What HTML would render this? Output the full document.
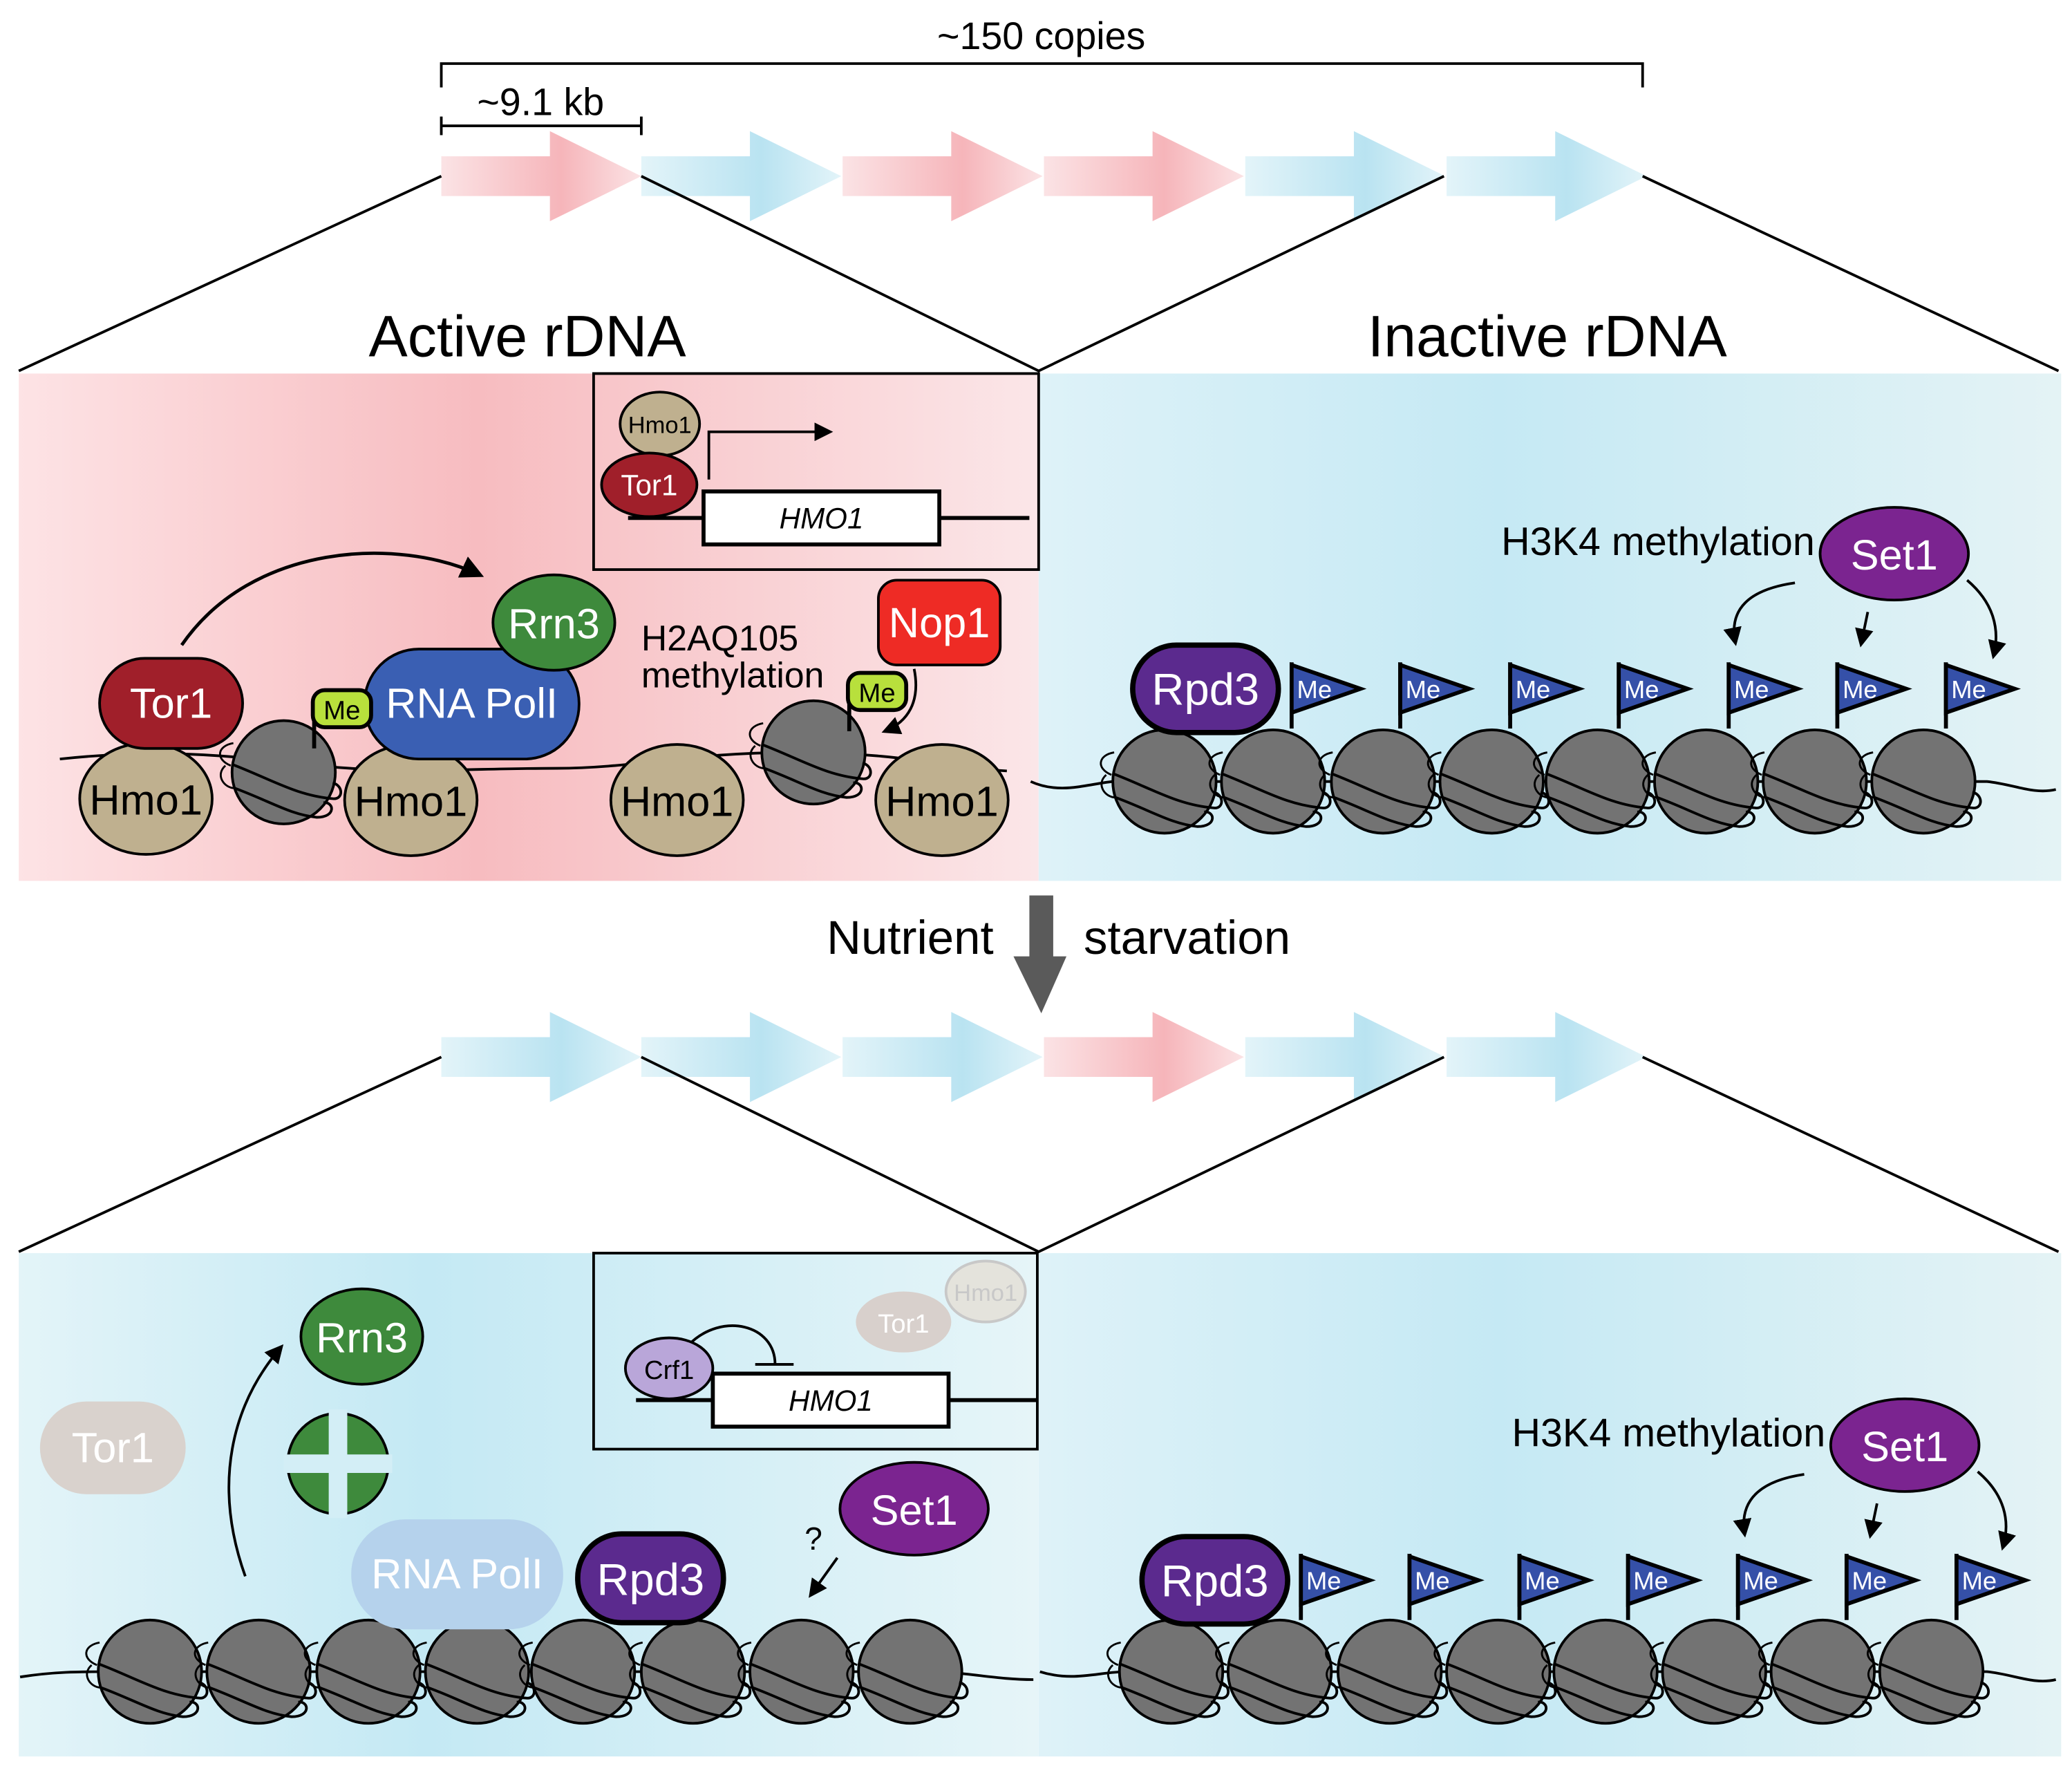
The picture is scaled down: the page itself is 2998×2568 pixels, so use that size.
<!DOCTYPE html>
<html><head><meta charset="utf-8"><style>html,body{margin:0;padding:0;background:#fff}svg{display:block}</style></head>
<body>
<svg width="2998" height="2568" viewBox="0 0 1564 1340" xmlns="http://www.w3.org/2000/svg" font-family="Liberation Sans, sans-serif">
<defs>
<linearGradient id="pk" x1="0" x2="1"><stop offset="0" stop-color="#fbe3e5"/><stop offset="0.6" stop-color="#f6b5ba"/><stop offset="1" stop-color="#fbe3e5"/></linearGradient>
<linearGradient id="bl" x1="0" x2="1"><stop offset="0" stop-color="#e3f4f9"/><stop offset="0.6" stop-color="#b9e3f1"/><stop offset="1" stop-color="#e3f4f9"/></linearGradient>
<linearGradient id="pA" x1="0" x2="1"><stop offset="0" stop-color="#fde3e5"/><stop offset="0.45" stop-color="#f7bcc0"/><stop offset="1" stop-color="#fbe6e8"/></linearGradient>
<linearGradient id="bI" x1="0" x2="1"><stop offset="0" stop-color="#def2f8"/><stop offset="0.45" stop-color="#c5e9f4"/><stop offset="1" stop-color="#e4f3f5"/></linearGradient>
<linearGradient id="bB" x1="0" x2="1"><stop offset="0" stop-color="#e3f4f8"/><stop offset="0.4" stop-color="#c4e9f4"/><stop offset="1" stop-color="#e6f5f8"/></linearGradient>
<g id="pa"><path d="M0,-15 H82 V-34 L151,0 L82,34 V15 H0 Z" fill="url(#pk)"/></g>
<g id="ba"><path d="M0,-15 H82 V-34 L151,0 L82,34 V15 H0 Z" fill="url(#bl)"/></g>
<g id="nuc">
<path d="M-38,-22 C-50,-20 -52,-10 -40,-5" fill="none" stroke="#000" stroke-width="1.5"/>
<circle r="39" fill="#737373" stroke="#000" stroke-width="2"/>
<path d="M-39,-6 C-10,5 10,18 38,20 C45,20 45,10 37,8" fill="none" stroke="#000" stroke-width="2"/>
<path d="M-37,12 C-10,22 5,32 25,34 C40,34 38,22 30,23" fill="none" stroke="#000" stroke-width="2"/>
<path d="M-44,-5 C-52,2 -45,12 -37,12" fill="none" stroke="#000" stroke-width="1.5"/>
</g>
<g id="flag"><line x1="0" y1="50" x2="0" y2="0" stroke="#000" stroke-width="3"/><path d="M0,2 L52,20 L0,38 Z" fill="#3550a8" stroke="#000" stroke-width="3"/><text x="4" y="27" font-size="19" fill="#fff">Me</text></g>
<marker id="ah" viewBox="0 0 10 10" refX="8" refY="5" markerWidth="7" markerHeight="7" orient="auto"><path d="M0,0 L10,5 L0,10 Z" fill="#000"/></marker>
</defs>
<rect width="1564" height="1340" fill="#fff"/>
<text x="786" y="37" font-size="29" text-anchor="middle">~150 copies</text>
<path d="M333,66 V48 H1240 V66" fill="none" stroke="#000" stroke-width="2"/>
<text x="408" y="87" font-size="29" text-anchor="middle">~9.1 kb</text>
<path d="M333,88 V102 M333,95 H484 M484,88 V102" fill="none" stroke="#000" stroke-width="2"/>
<use href="#pa" x="333" y="133"/><use href="#ba" x="484" y="133"/><use href="#pa" x="636" y="133"/><use href="#pa" x="788" y="133"/><use href="#ba" x="940" y="133"/><use href="#ba" x="1092" y="133"/>
<path d="M333,133 L14,280 M484,133 L784,280 L1090,133 M1240,133 L1554,280" fill="none" stroke="#000" stroke-width="2"/>
<text x="398" y="269" font-size="44" text-anchor="middle">Active rDNA</text>
<text x="1168" y="269" font-size="44" text-anchor="middle">Inactive rDNA</text>
<rect x="14" y="282" width="770" height="383" fill="url(#pA)"/>
<rect x="784" y="282" width="772" height="383" fill="url(#bI)"/>
<rect x="448" y="282" width="336" height="148" fill="none" stroke="#000" stroke-width="2"/>
<line x1="474" y1="391" x2="777" y2="391" stroke="#000" stroke-width="3"/>
<rect x="531" y="371" width="178" height="40" fill="#fff" stroke="#000" stroke-width="3"/>
<text x="620" y="399" font-size="22" font-style="italic" text-anchor="middle">HMO1</text>
<path d="M535,362 V326 H626" fill="none" stroke="#000" stroke-width="2" marker-end="url(#ah)"/>
<ellipse cx="498" cy="320" rx="30" ry="24" fill="#bfb08f" stroke="#000" stroke-width="2"/>
<text x="498" y="327" font-size="18" text-anchor="middle">Hmo1</text>
<ellipse cx="490" cy="366" rx="36" ry="24" fill="#a01f2a" stroke="#000" stroke-width="2"/>
<text x="490" y="374" font-size="22" fill="#fff" text-anchor="middle">Tor1</text>
<path d="M45,573 C120,565 170,570 230,577 C300,585 350,580 420,580 C480,580 520,568 600,568 C680,568 720,580 760,582" fill="none" stroke="#000" stroke-width="2"/>
<path d="M137,487 C190,410 300,405 362,434" fill="none" stroke="#000" stroke-width="2.5" marker-end="url(#ah)"/>
<ellipse cx="110" cy="603" rx="50" ry="42" fill="#bfb08f" stroke="#000" stroke-width="2"/>
<text x="110" y="615" font-size="32" text-anchor="middle">Hmo1</text>
<rect x="75" y="497" width="108" height="68" rx="34" fill="#a01f2a" stroke="#000" stroke-width="2"/>
<text x="129" y="542" font-size="32" fill="#fff" text-anchor="middle">Tor1</text>
<use href="#nuc" x="214" y="583"/>
<ellipse cx="310" cy="604" rx="50" ry="42" fill="#bfb08f" stroke="#000" stroke-width="2"/>
<text x="310" y="616" font-size="32" text-anchor="middle">Hmo1</text>
<rect x="275" y="490" width="162" height="83" rx="41" fill="#3a5fb3" stroke="#000" stroke-width="2"/>
<text x="356" y="542" font-size="32" fill="#fff" text-anchor="middle">RNA PolI</text>
<ellipse cx="418" cy="470" rx="46" ry="36" fill="#3e8a3c" stroke="#000" stroke-width="2"/>
<text x="418" y="482" font-size="32" fill="#fff" text-anchor="middle">Rrn3</text>
<line x1="237" y1="565" x2="237" y2="536" stroke="#000" stroke-width="3"/>
<rect x="236" y="521" width="44" height="28" rx="9" fill="#b8e03c" stroke="#000" stroke-width="3"/>
<text x="258" y="543" font-size="20" text-anchor="middle">Me</text>
<ellipse cx="511" cy="604" rx="50" ry="42" fill="#bfb08f" stroke="#000" stroke-width="2"/>
<text x="511" y="616" font-size="32" text-anchor="middle">Hmo1</text>
<ellipse cx="711" cy="604" rx="50" ry="42" fill="#bfb08f" stroke="#000" stroke-width="2"/>
<text x="711" y="616" font-size="32" text-anchor="middle">Hmo1</text>
<use href="#nuc" x="614" y="568"/>
<text x="484" y="491" font-size="27">H2AQ105</text>
<text x="484" y="519" font-size="27">methylation</text>
<line x1="641" y1="552" x2="641" y2="522" stroke="#000" stroke-width="3"/>
<rect x="640" y="508" width="44" height="28" rx="9" fill="#b8e03c" stroke="#000" stroke-width="3"/>
<text x="662" y="530" font-size="20" text-anchor="middle">Me</text>
<path d="M690,505 C695,530 685,545 668,552" fill="none" stroke="#000" stroke-width="2" marker-end="url(#ah)"/>
<rect x="663" y="438" width="92" height="64" rx="14" fill="#ee2b25" stroke="#000" stroke-width="2"/>
<text x="709" y="481" font-size="32" fill="#fff" text-anchor="middle">Nop1</text>
<path d="M778,590 C800,600 820,592 840,590 L1500,590 C1520,592 1535,600 1552,596" fill="none" stroke="#000" stroke-width="2"/>
<use href="#nuc" x="879" y="590"/><use href="#nuc" x="961" y="590"/><use href="#nuc" x="1044" y="590"/><use href="#nuc" x="1126" y="590"/><use href="#nuc" x="1206" y="590"/><use href="#nuc" x="1288" y="590"/><use href="#nuc" x="1370" y="590"/><use href="#nuc" x="1452" y="590"/>
<rect x="855" y="487" width="110" height="66" rx="33" fill="#5b2a8e" stroke="#000" stroke-width="4"/>
<text x="910" y="532" font-size="34" fill="#fff" text-anchor="middle">Rpd3</text>
<use href="#flag" x="975" y="500"/><use href="#flag" x="1057" y="500"/><use href="#flag" x="1140" y="500"/><use href="#flag" x="1222" y="500"/><use href="#flag" x="1305" y="500"/><use href="#flag" x="1387" y="500"/><use href="#flag" x="1469" y="500"/>
<text x="1370" y="419" font-size="30" text-anchor="end">H3K4 methylation</text>
<ellipse cx="1430" cy="418" rx="56" ry="35" fill="#7b2490" stroke="#000" stroke-width="2"/>
<text x="1430" y="430" font-size="32" fill="#fff" text-anchor="middle">Set1</text>
<path d="M1355,440 C1320,445 1305,460 1310,485" fill="none" stroke="#000" stroke-width="2" marker-end="url(#ah)"/>
<path d="M1410,462 L1405,486" fill="none" stroke="#000" stroke-width="2" marker-end="url(#ah)"/>
<path d="M1485,438 C1505,455 1510,475 1505,495" fill="none" stroke="#000" stroke-width="2" marker-end="url(#ah)"/>
<text x="750" y="720" font-size="36" text-anchor="end">Nutrient</text>
<text x="818" y="720" font-size="36">starvation</text>
<path d="M777,676 H795 V722 H805 L786,765 L765,722 H777 Z" fill="#5a5a5a"/>
<use href="#ba" x="333" y="798"/><use href="#ba" x="484" y="798"/><use href="#ba" x="636" y="798"/><use href="#pa" x="788" y="798"/><use href="#ba" x="940" y="798"/><use href="#ba" x="1092" y="798"/>
<path d="M333,798 L14,945 M484,798 L784,945 L1090,798 M1240,798 L1554,945" fill="none" stroke="#000" stroke-width="2"/>
<rect x="14" y="946" width="770" height="380" fill="url(#bB)"/>
<rect x="784" y="946" width="772" height="380" fill="url(#bI)"/>
<rect x="448" y="946" width="335" height="148" fill="none" stroke="#000" stroke-width="2"/>
<line x1="480" y1="1057" x2="782" y2="1057" stroke="#000" stroke-width="3"/>
<rect x="538" y="1037" width="178" height="40" fill="#fff" stroke="#000" stroke-width="3"/>
<text x="627" y="1065" font-size="22" font-style="italic" text-anchor="middle">HMO1</text>
<path d="M520,1015 C545,990 585,1000 585,1030 M570,1030 H599" fill="none" stroke="#000" stroke-width="2"/>
<ellipse cx="505" cy="1033" rx="33" ry="23" fill="#b9a6d9" stroke="#000" stroke-width="2"/>
<text x="505" y="1041" font-size="20" text-anchor="middle">Crf1</text>
<ellipse cx="682" cy="998" rx="36" ry="23" fill="#d8d0cc"/>
<text x="682" y="1006" font-size="20" fill="#fff" text-anchor="middle">Tor1</text>
<ellipse cx="744" cy="975" rx="30" ry="23" fill="#e4e3dc" stroke="#c8c8c8" stroke-width="2"/>
<text x="744" y="982" font-size="18" fill="#c8c8c8" text-anchor="middle">Hmo1</text>
<path d="M185,1190 C160,1120 175,1060 212,1017" fill="none" stroke="#000" stroke-width="2" marker-end="url(#ah)"/>
<ellipse cx="273" cy="1009" rx="46" ry="36" fill="#3e8a3c" stroke="#000" stroke-width="2"/>
<text x="273" y="1021" font-size="32" fill="#fff" text-anchor="middle">Rrn3</text>
<circle cx="255" cy="1105" r="38" fill="#3e8a3c" stroke="#000" stroke-width="2"/>
<path d="M214,1105 H296 M255,1064 V1146" stroke="#d3eef6" stroke-width="14"/>
<rect x="30" y="1058" width="110" height="70" rx="35" fill="#d9d2cd"/>
<text x="85" y="1104" font-size="32" fill="#fff" text-anchor="middle">Tor1</text>
<path d="M15,1266 C40,1262 60,1262 80,1262 L700,1262 C730,1262 750,1268 780,1268" fill="none" stroke="#000" stroke-width="2"/>
<use href="#nuc" x="113" y="1262"/><use href="#nuc" x="195" y="1262"/><use href="#nuc" x="278" y="1262"/><use href="#nuc" x="360" y="1262"/><use href="#nuc" x="440" y="1262"/><use href="#nuc" x="523" y="1262"/><use href="#nuc" x="605" y="1262"/><use href="#nuc" x="687" y="1262"/>
<rect x="265" y="1147" width="160" height="83" rx="41" fill="#b5d2ec"/>
<text x="345" y="1199" font-size="32" fill="#fff" text-anchor="middle">RNA PolI</text>
<rect x="436" y="1158" width="110" height="67" rx="33" fill="#5b2a8e" stroke="#000" stroke-width="4"/>
<text x="491" y="1204" font-size="34" fill="#fff" text-anchor="middle">Rpd3</text>
<ellipse cx="690" cy="1139" rx="56" ry="35" fill="#7b2490" stroke="#000" stroke-width="2"/>
<text x="690" y="1151" font-size="32" fill="#fff" text-anchor="middle">Set1</text>
<text x="614" y="1170" font-size="24" text-anchor="middle">?</text>
<path d="M632,1176 L612,1204" fill="none" stroke="#000" stroke-width="2" marker-end="url(#ah)"/>
<path d="M785,1262 C810,1270 830,1262 850,1262 L1500,1262 C1520,1264 1535,1272 1552,1268" fill="none" stroke="#000" stroke-width="2"/>
<use href="#nuc" x="884" y="1262"/><use href="#nuc" x="966" y="1262"/><use href="#nuc" x="1049" y="1262"/><use href="#nuc" x="1131" y="1262"/><use href="#nuc" x="1212" y="1262"/><use href="#nuc" x="1294" y="1262"/><use href="#nuc" x="1376" y="1262"/><use href="#nuc" x="1458" y="1262"/>
<rect x="862" y="1160" width="110" height="66" rx="33" fill="#5b2a8e" stroke="#000" stroke-width="4"/>
<text x="917" y="1205" font-size="34" fill="#fff" text-anchor="middle">Rpd3</text>
<use href="#flag" x="982" y="1173"/><use href="#flag" x="1064" y="1173"/><use href="#flag" x="1147" y="1173"/><use href="#flag" x="1229" y="1173"/><use href="#flag" x="1312" y="1173"/><use href="#flag" x="1394" y="1173"/><use href="#flag" x="1477" y="1173"/>
<text x="1378" y="1092" font-size="30" text-anchor="end">H3K4 methylation</text>
<ellipse cx="1438" cy="1091" rx="56" ry="35" fill="#7b2490" stroke="#000" stroke-width="2"/>
<text x="1438" y="1103" font-size="32" fill="#fff" text-anchor="middle">Set1</text>
<path d="M1362,1113 C1328,1118 1313,1133 1317,1158" fill="none" stroke="#000" stroke-width="2" marker-end="url(#ah)"/>
<path d="M1417,1135 L1412,1159" fill="none" stroke="#000" stroke-width="2" marker-end="url(#ah)"/>
<path d="M1493,1111 C1513,1128 1518,1148 1512,1168" fill="none" stroke="#000" stroke-width="2" marker-end="url(#ah)"/>
</svg>
</body></html>
